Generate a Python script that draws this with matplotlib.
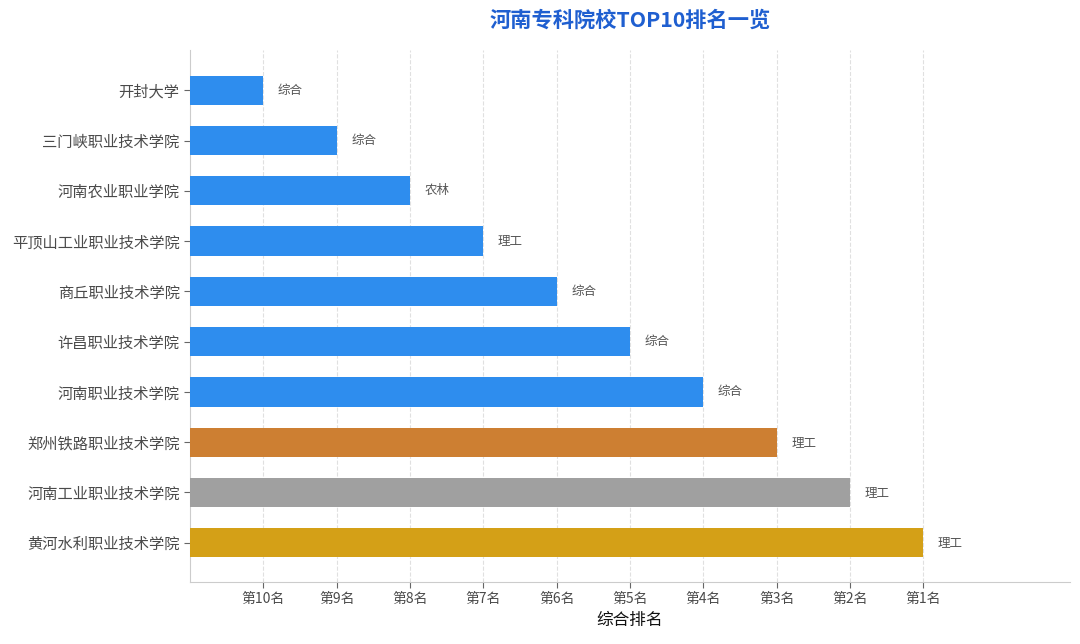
import matplotlib
matplotlib.use("Agg")
import matplotlib.pyplot as plt

plt.rcParams['font.family'] = ['Noto Sans CJK SC', 'DejaVu Sans']

schools = ["黄河水利职业技术学院", "河南工业职业技术学院", "郑州铁路职业技术学院",
           "河南职业技术学院", "许昌职业技术学院", "商丘职业技术学院",
           "平顶山工业职业技术学院", "河南农业职业学院", "三门峡职业技术学院", "开封大学"]
ranks = [1, 2, 3, 4, 5, 6, 7, 8, 9, 10]
types = ["理工", "理工", "理工", "综合", "综合", "综合", "理工", "农林", "综合", "综合"]
colors = ["#D4A017", "#A0A0A0", "#CD7F32"] + ["#2E8DEE"] * 7
tick_labels = ["第10名", "第9名", "第8名", "第7名", "第6名", "第5名", "第4名", "第3名", "第2名", "第1名"]

scores = [11 - r for r in ranks]

fig = plt.figure(figsize=(10.8, 6.44), dpi=100)
ax = fig.add_axes([190/1080, 62/644, 880/1080, 532/644])

ypos = list(range(len(schools)))
ax.barh(ypos, scores, height=0.58, color=colors, zorder=3)
for y, s, t in zip(ypos, scores, types):
    ax.text(s + 0.2, y, t, va='center', ha='left', fontsize=9, color='#555555')

ax.set_yticks(ypos)
ax.set_yticklabels(schools, fontsize=11, color='#444444')
ax.set_xticks(range(1, 11))
ax.set_xticklabels(tick_labels, fontsize=10, color='#444444')
ax.set_xlim(0, 12)
ax.set_ylim(-0.78, 9.8)
ax.set_xlabel("综合排名", fontsize=12, color='#111111', labelpad=4)

ax.grid(axis='x', linestyle='--', color='#e0e0e0', linewidth=0.8, zorder=0)
for sp in ['top', 'right']:
    ax.spines[sp].set_visible(False)
for sp in ['left', 'bottom']:
    ax.spines[sp].set_color('#cccccc')
ax.tick_params(axis='both', colors='#666666', length=4, width=0.8)
ax.tick_params(axis='both', labelcolor='#4a4a4a')

fig.text(630/1080, 1 - 20/644, "河南专科院校TOP10排名一览", ha='center', va='center',
         fontsize=15.3, fontweight='bold', color='#1F5FD0')

fig.savefig("out.png", dpi=100)
